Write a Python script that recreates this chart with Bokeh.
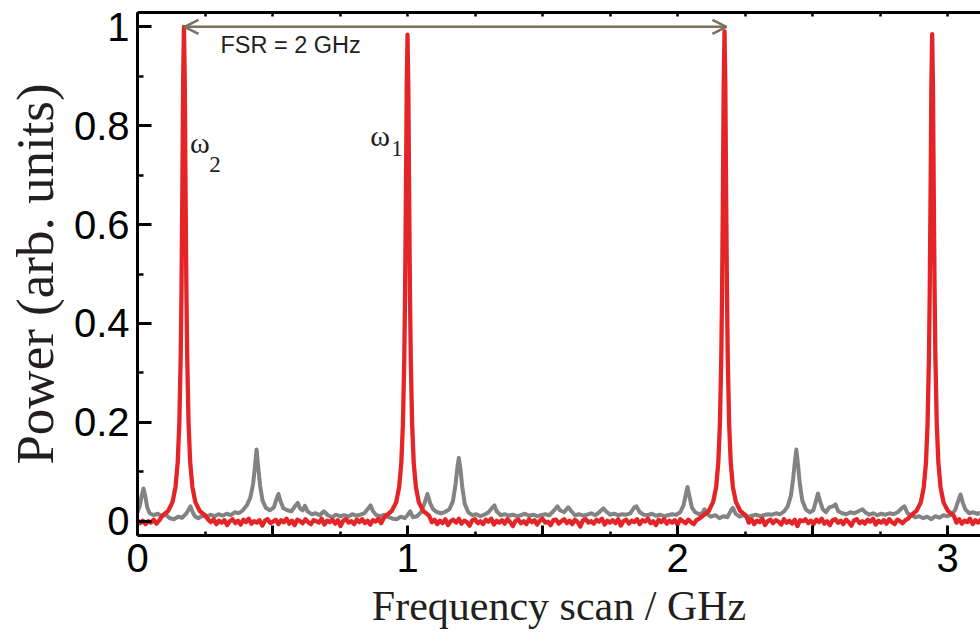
from bokeh.plotting import figure
from bokeh.models import Range1d, FixedTicker, LinearAxis, Label, Arrow, OpenHead, Title
from bokeh.embed import file_html
from bokeh.resources import INLINE

# ---------------- data ----------------
gray_x = [0.000, 0.008, 0.015, 0.022, 0.029, 0.036, 0.045, 0.060, 0.075, 0.090, 0.105, 0.120, 0.135, 0.150, 0.165,
          0.180, 0.190, 0.196, 0.203, 0.212, 0.225, 0.240, 0.255, 0.270, 0.285, 0.300, 0.315, 0.330, 0.345, 0.360,
          0.375, 0.390, 0.405, 0.418, 0.428, 0.435, 0.441, 0.447, 0.454, 0.463, 0.475, 0.490, 0.505, 0.515, 0.522,
          0.530, 0.540, 0.555, 0.570, 0.583, 0.593, 0.603, 0.612, 0.620, 0.630, 0.645, 0.660, 0.675, 0.690, 0.705,
          0.720, 0.735, 0.750, 0.765, 0.780, 0.795, 0.810, 0.825, 0.840, 0.855, 0.863, 0.872, 0.885, 0.900, 0.915,
          0.930, 0.945, 0.960, 0.975, 0.990, 1.000, 1.010, 1.020, 1.035, 1.050, 1.062, 1.074, 1.084, 1.095, 1.110,
          1.125, 1.140, 1.155, 1.168, 1.178, 1.185, 1.190, 1.196, 1.203, 1.212, 1.225, 1.240, 1.255, 1.270, 1.285,
          1.300, 1.315, 1.322, 1.330, 1.345, 1.360, 1.375, 1.390, 1.405, 1.420, 1.435, 1.450, 1.465, 1.480, 1.495,
          1.510, 1.525, 1.540, 1.555, 1.565, 1.580, 1.595, 1.607, 1.620, 1.635, 1.650, 1.665, 1.680, 1.695, 1.710,
          1.725, 1.735, 1.750, 1.765, 1.780, 1.795, 1.810, 1.825, 1.840, 1.848, 1.860, 1.875, 1.890, 1.905, 1.920,
          1.935, 1.950, 1.965, 1.980, 1.995, 2.010, 2.022, 2.031, 2.037, 2.044, 2.053, 2.065, 2.080, 2.092, 2.100,
          2.110, 2.125, 2.140, 2.155, 2.170, 2.185, 2.198, 2.205, 2.215, 2.230, 2.245, 2.260, 2.275, 2.290, 2.305,
          2.320, 2.335, 2.350, 2.365, 2.380, 2.395, 2.408, 2.420, 2.428, 2.434, 2.440, 2.446, 2.453, 2.462, 2.475,
          2.490, 2.503, 2.513, 2.520, 2.528, 2.538, 2.550, 2.562, 2.575, 2.585, 2.595, 2.610, 2.625, 2.640, 2.655,
          2.670, 2.685, 2.695, 2.710, 2.725, 2.740, 2.755, 2.770, 2.785, 2.800, 2.815, 2.830, 2.840, 2.852, 2.865,
          2.880, 2.895, 2.910, 2.925, 2.940, 2.955, 2.970, 2.985, 3.000, 3.015, 3.028, 3.040, 3.048, 3.056, 3.066,
          3.080, 3.095, 3.110, 3.125]
gray_y = [0.018, 0.030, 0.050, 0.066, 0.050, 0.028, 0.016, 0.012, 0.015, 0.010, 0.013, 0.006, 0.004, 0.009, 0.007,
          0.015, 0.024, 0.030, 0.020, 0.010, 0.006, 0.011, 0.008, 0.013, 0.010, 0.014, 0.011, 0.015, 0.012, 0.018,
          0.016, 0.022, 0.032, 0.048, 0.075, 0.110, 0.145, 0.110, 0.072, 0.042, 0.027, 0.022, 0.028, 0.045, 0.055,
          0.040, 0.026, 0.022, 0.020, 0.030, 0.037, 0.025, 0.022, 0.031, 0.020, 0.014, 0.016, 0.012, 0.020, 0.012,
          0.008, 0.013, 0.010, 0.012, 0.009, 0.014, 0.011, 0.013, 0.016, 0.026, 0.032, 0.020, 0.012, 0.010, 0.013,
          0.008, 0.005, 0.004, 0.009, 0.006, 0.012, 0.020, 0.008, 0.010, 0.018, 0.035, 0.055, 0.036, 0.024, 0.018,
          0.016, 0.019, 0.024, 0.040, 0.075, 0.110, 0.128, 0.105, 0.068, 0.035, 0.018, 0.012, 0.014, 0.010, 0.013,
          0.018, 0.028, 0.032, 0.020, 0.012, 0.014, 0.011, 0.013, 0.010, 0.012, 0.015, 0.011, 0.013, 0.010, 0.012,
          0.014, 0.012, 0.020, 0.030, 0.022, 0.018, 0.028, 0.020, 0.012, 0.014, 0.011, 0.013, 0.016, 0.012, 0.018,
          0.026, 0.020, 0.013, 0.015, 0.012, 0.014, 0.013, 0.016, 0.028, 0.030, 0.018, 0.013, 0.012, 0.015, 0.011,
          0.013, 0.010, 0.012, 0.014, 0.013, 0.018, 0.032, 0.055, 0.069, 0.050, 0.028, 0.018, 0.014, 0.016, 0.024,
          0.014, 0.009, 0.012, 0.006, 0.010, 0.008, 0.022, 0.027, 0.015, 0.009, 0.012, 0.008, 0.011, 0.013, 0.010,
          0.012, 0.014, 0.013, 0.016, 0.014, 0.020, 0.030, 0.052, 0.085, 0.118, 0.145, 0.115, 0.075, 0.042, 0.024,
          0.018, 0.022, 0.042, 0.056, 0.040, 0.024, 0.018, 0.028, 0.030, 0.034, 0.020, 0.016, 0.014, 0.018, 0.016,
          0.020, 0.024, 0.018, 0.013, 0.016, 0.012, 0.015, 0.013, 0.016, 0.014, 0.018, 0.026, 0.030, 0.016, 0.012,
          0.008, 0.010, 0.006, 0.009, 0.004, 0.010, 0.007, 0.012, 0.010, 0.014, 0.022, 0.042, 0.054, 0.038, 0.024,
          0.016, 0.018, 0.015, 0.017]

red_x = [0.000, 0.010, 0.020, 0.030, 0.040, 0.050, 0.060, 0.070, 0.080,
         # peak (omega_2)
         0.092, 0.114, 0.130, 0.141, 0.149, 0.155, 0.160, 0.163, 0.166, 0.169, 0.172, 0.175, 0.178, 0.181, 0.184,
         0.189, 0.195, 0.203, 0.214, 0.230, 0.252,
         0.262, 0.272, 0.282, 0.292, 0.302, 0.312, 0.322, 0.332, 0.342, 0.352, 0.362, 0.372, 0.382, 0.392, 0.402,
         0.412, 0.422, 0.432, 0.442, 0.452, 0.462, 0.472, 0.482, 0.492, 0.502, 0.512, 0.522, 0.532, 0.542, 0.552,
         0.562, 0.572, 0.582, 0.592, 0.602, 0.612, 0.622, 0.632, 0.642, 0.652, 0.662, 0.672, 0.682, 0.692, 0.702,
         0.712, 0.722, 0.732, 0.742, 0.752, 0.762, 0.772, 0.782, 0.792, 0.802, 0.812, 0.822, 0.832, 0.842, 0.852,
         0.862, 0.872, 0.882, 0.892, 0.902, 0.912,
         # peak (omega_1)
         0.920, 0.942, 0.958, 0.969, 0.977, 0.983, 0.988, 0.991, 0.994, 0.997, 1.000, 1.003, 1.006, 1.009, 1.012,
         1.017, 1.023, 1.031, 1.042, 1.058, 1.080,
         1.090, 1.100, 1.110, 1.120, 1.130, 1.140, 1.150, 1.160, 1.170, 1.180, 1.190, 1.200, 1.210, 1.220, 1.230,
         1.240, 1.250, 1.260, 1.270, 1.280, 1.290, 1.300, 1.310, 1.320, 1.330, 1.340, 1.350, 1.360, 1.370, 1.380,
         1.390, 1.400, 1.410, 1.420, 1.430, 1.440, 1.450, 1.460, 1.470, 1.480, 1.490, 1.500, 1.510, 1.520, 1.530,
         1.540, 1.550, 1.560, 1.570, 1.580, 1.590, 1.600, 1.610, 1.620, 1.630, 1.640, 1.650, 1.660, 1.670, 1.680,
         1.690, 1.700, 1.710, 1.720, 1.730, 1.740, 1.750, 1.760, 1.770, 1.780, 1.790, 1.800, 1.810, 1.820, 1.830,
         1.840, 1.850, 1.860, 1.870, 1.880, 1.890, 1.900, 1.910, 1.920, 1.930, 1.940, 1.950, 1.960, 1.970, 1.980,
         1.990, 2.000, 2.010, 2.020, 2.030, 2.040, 2.050, 2.060, 2.070, 2.080,
         # peak
         2.094, 2.116, 2.132, 2.143, 2.151, 2.157, 2.162, 2.165, 2.168, 2.171, 2.174, 2.177, 2.180, 2.183, 2.186,
         2.191, 2.197, 2.205, 2.216, 2.232, 2.254,
         2.264, 2.274, 2.284, 2.294, 2.304, 2.314, 2.324, 2.334, 2.344, 2.354, 2.364, 2.374, 2.384, 2.394, 2.404,
         2.414, 2.424, 2.434, 2.444, 2.454, 2.464, 2.474, 2.484, 2.494, 2.504, 2.514, 2.524, 2.534, 2.544, 2.554,
         2.564, 2.574, 2.584, 2.594, 2.604, 2.614, 2.624, 2.634, 2.644, 2.654, 2.664, 2.674, 2.684, 2.694, 2.704,
         2.714, 2.724, 2.734, 2.744, 2.754, 2.764, 2.774, 2.784, 2.794, 2.804, 2.814, 2.824, 2.834, 2.844, 2.854,
         # peak
         2.863, 2.885, 2.901, 2.912, 2.920, 2.926, 2.931, 2.934, 2.937, 2.940, 2.943, 2.946, 2.949, 2.952, 2.955,
         2.960, 2.966, 2.974, 2.985, 3.001, 3.023,
         3.033, 3.043, 3.053, 3.063, 3.073, 3.083, 3.093, 3.103, 3.113, 3.123, 3.133]
red_y = [0.002, -0.004, 0.001, -0.006, 0.000, -0.003, 0.003, -0.005, 0.001,
         0.011, 0.021, 0.039, 0.070, 0.120, 0.200, 0.334, 0.471, 0.667, 0.889, 1.000, 0.889, 0.667, 0.471, 0.334,
         0.200, 0.120, 0.070, 0.039, 0.021, 0.011,
         0.003, -0.002, 0.004, -0.006, 0.001, -0.003, 0.002, -0.008, 0.000, 0.004,
         -0.004, 0.001, -0.007, 0.003, -0.002, 0.005, -0.005, 0.000, -0.003, 0.002,
         -0.009, 0.001, 0.004, -0.004, -0.001, 0.003, -0.006, 0.002, -0.002, 0.005,
         -0.005, 0.001, -0.008, 0.003, 0.000, -0.004, 0.004, -0.002, -0.006, 0.002,
         0.000, -0.003, 0.005, -0.007, 0.001, -0.002, 0.003, -0.005, 0.002, -0.010,
         0.001, 0.004, -0.003, 0.000, -0.006, 0.003, -0.002, 0.004, -0.004, 0.001,
         -0.007, 0.002, -0.001, 0.005, -0.004, 0.006,
         0.011, 0.021, 0.038, 0.069, 0.118, 0.197, 0.329, 0.463, 0.656, 0.875, 0.984, 0.875, 0.656, 0.463, 0.329,
         0.197, 0.118, 0.069, 0.038, 0.021, 0.011,
         -0.002, 0.003, -0.006, 0.001, -0.004, 0.004, -0.008, 0.000, 0.003, -0.003,
         0.005, -0.005, 0.001, -0.002, -0.009, 0.002, 0.004, -0.004, 0.000, -0.006,
         0.003, -0.001, 0.005, -0.007, 0.001, -0.003, 0.002, -0.005, 0.004, -0.002,
         -0.010, 0.001, 0.003, -0.004, 0.000, -0.006, 0.004, -0.002, 0.002, -0.007,
         0.001, 0.005, -0.003, -0.001, -0.008, 0.002, 0.003, -0.005, 0.000, 0.004,
         -0.004, 0.001, -0.006, 0.003, -0.002, -0.011, 0.002, 0.004, -0.003, 0.000,
         -0.005, 0.003, -0.001, 0.005, -0.007, 0.001, -0.003, 0.002, -0.004, 0.004,
         -0.009, 0.000, 0.003, -0.005, 0.001, -0.002, 0.004, -0.006, 0.002, -0.001,
         0.005, -0.004, 0.000, -0.008, 0.003, -0.002, 0.004, -0.005, 0.001, -0.003,
         0.002, -0.007, 0.004, 0.000, -0.004, 0.003, -0.002, -0.006, 0.002, 0.005,
         0.011, 0.021, 0.039, 0.069, 0.119, 0.198, 0.331, 0.467, 0.661, 0.881, 0.991, 0.881, 0.661, 0.467, 0.331,
         0.198, 0.119, 0.069, 0.039, 0.021, 0.011,
         -0.003, 0.004, -0.006, 0.001, -0.002, 0.005, -0.008, 0.000, 0.003, -0.004,
         0.002, -0.001, -0.007, 0.004, -0.003, 0.001, -0.005, 0.003, -0.010, 0.002,
         0.000, 0.004, -0.004, 0.001, -0.006, 0.003, -0.002, 0.005, -0.005, 0.000,
         -0.008, 0.002, 0.004, -0.003, 0.001, -0.006, 0.003, -0.002, -0.009, 0.002,
         0.004, -0.004, 0.000, -0.005, 0.003, -0.001, 0.005, -0.007, 0.001, -0.003,
         0.002, -0.005, 0.004, -0.002, -0.006, 0.003, 0.000, -0.004, 0.002, 0.005,
         0.011, 0.021, 0.038, 0.069, 0.118, 0.197, 0.329, 0.464, 0.657, 0.876, 0.985, 0.876, 0.657, 0.464, 0.329,
         0.197, 0.118, 0.069, 0.038, 0.021, 0.011,
         -0.003, 0.004, -0.005, 0.001, -0.002, 0.005, -0.006, 0.002, -0.003, 0.003, 0.000]

x_tick_values = [0, 0.5, 1, 1.5, 2, 2.5, 3]
x_tick_labels = ["0", "", "1", "", "2", "", "3"]
x_minor_values = [0.25, 0.75, 1.25, 1.75, 2.25, 2.75]
top_tick_values = [0, 0.25, 0.5, 0.75, 1, 1.25, 1.5, 1.75, 2, 2.25, 2.5, 2.75, 3]
y_tick_values = [0, 0.2, 0.4, 0.6, 0.8, 1]
y_tick_labels = ["0", "0.2", "0.4", "0.6", "0.8", "1"]
y_minor_values = [0.1, 0.3, 0.5, 0.7, 0.9]

x_label = "Frequency scan / GHz"
y_label = "Power (arb. units)"
fsr_text = "FSR = 2 GHz"
fsr_span = [0.174, 2.181]

# ---------------- figure ----------------
p = figure(width=980, height=637, output_backend="svg", toolbar_location=None,
           x_range=Range1d(0, 3.122), y_range=Range1d(-0.029, 1.029),
           min_border_left=137, min_border_right=0, min_border_top=12, min_border_bottom=102)
p.grid.visible = False
p.outline_line_color = None
p.background_fill_color = "white"
p.border_fill_color = "white"

p.line(gray_x, gray_y, line_color="#838383", line_width=4, line_join="round")
p.line(red_x, red_y, line_color="#e52428", line_width=4.3, line_join="round")

# axes
xa = p.xaxis[0]
xa.ticker = FixedTicker(ticks=x_tick_values, minor_ticks=x_minor_values)
xa.major_label_overrides = {v: l for v, l in zip(x_tick_values, x_tick_labels)}
ya = p.yaxis[0]
ya.ticker = FixedTicker(ticks=y_tick_values, minor_ticks=y_minor_values)
ya.major_label_overrides = {v: l for v, l in zip(y_tick_values, y_tick_labels)}

for ax in (xa, ya):
    ax.axis_line_width = 3
    ax.axis_line_color = "black"
    ax.major_tick_line_width = 3
    ax.minor_tick_line_width = 2.5
    ax.major_tick_out = 0
    ax.minor_tick_out = 0
    ax.major_label_text_font = "Liberation Sans"
    ax.major_label_text_font_size = "40px"
    ax.major_label_text_color = "black"

xa.major_tick_in = 10
xa.minor_tick_in = 4
xa.major_label_standoff = 8

ya.major_tick_in = 14
ya.minor_tick_in = 6
ya.major_label_standoff = 8

top = LinearAxis(ticker=FixedTicker(ticks=top_tick_values, minor_ticks=[]))
top.major_label_overrides = {v: "" for v in top_tick_values}
top.major_label_text_font_size = "1px"
top.major_label_standoff = 0
top.axis_line_width = 3
top.axis_line_color = "black"
top.major_tick_in = 4
top.major_tick_out = 0
top.major_tick_line_width = 2.5
p.add_layout(top, "above")

# axis titles as title panels outside the axes
p.add_layout(Title(text=x_label, align="center", text_font="Liberation Serif",
                   text_font_size="42px", text_font_style="normal", text_color="#231f20",
                   standoff=13), "below")
p.add_layout(Title(text=y_label, align="center", vertical_align="top", text_font="Liberation Serif",
                   text_font_size="53px", text_font_style="normal", text_color="#231f20",
                   standoff=10), "left")

# annotations
arrow_col = "#7b705f"
p.add_layout(Arrow(start=OpenHead(size=14, line_color=arrow_col, line_width=2.5),
                   end=OpenHead(size=14, line_color=arrow_col, line_width=2.5),
                   x_start=fsr_span[0], x_end=fsr_span[1], y_start=1.0, y_end=1.0,
                   line_color=arrow_col, line_width=2.5))
p.add_layout(Label(x=0.307, y=0.937, text=fsr_text, text_font="Liberation Sans",
                   text_font_size="23.5px", text_color="#231f20"))
p.add_layout(Label(x=0.194, y=0.732, text="ω", text_font="Liberation Serif",
                   text_font_size="30px", text_color="#231f20"))
p.add_layout(Label(x=0.266, y=0.706, text="2", text_font="Liberation Serif",
                   text_font_size="23px", text_color="#231f20"))
p.add_layout(Label(x=0.862, y=0.746, text="ω", text_font="Liberation Serif",
                   text_font_size="30px", text_color="#231f20"))
p.add_layout(Label(x=0.940, y=0.738, text="1", text_font="Liberation Serif",
                   text_font_size="23px", text_color="#231f20"))

open("out.html", "w").write(file_html(p, INLINE))
